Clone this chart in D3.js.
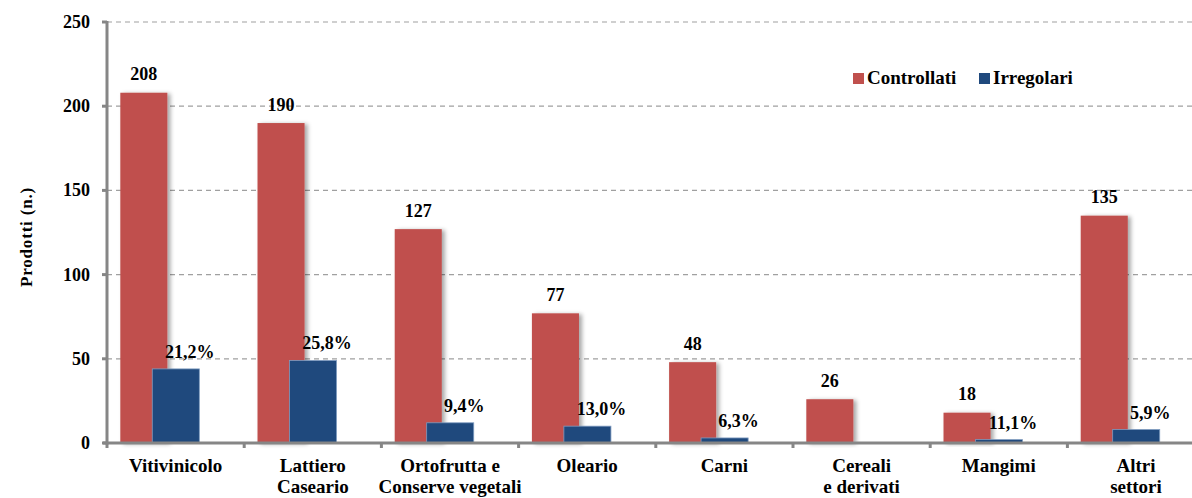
<!DOCTYPE html>
<html>
<head>
<meta charset="utf-8">
<script src="https://cdn.jsdelivr.net/npm/d3@7"></script>
<style>
  body { margin: 0; background: #fff; }
  svg { display: block; font-family: "Liberation Serif", "Times New Roman", serif; font-weight: bold; }
</style>
</head>
<body>
<div id="chart"></div>
<script>
// data
var categories = [
  ["Vitivinicolo"],
  ["Lattiero", "Caseario"],
  ["Ortofrutta e", "Conserve vegetali"],
  ["Oleario"],
  ["Carni"],
  ["Cereali", "e derivati"],
  ["Mangimi"],
  ["Altri", "settori"]
];
var controllati = [208, 190, 127, 77, 48, 26, 18, 135];
var irregolari = [44, 49, 12, 10, 3, 0, 2, 8];
var percentuali = ["21,2%", "25,8%", "9,4%", "13,0%", "6,3%", null, "11,1%", "5,9%"];
var yTicks = [0, 50, 100, 150, 200, 250];
var seriesNames = ["Controllati", "Irregolari"];
var colors = ["#C0504D", "#1F497D"];

var W = 1192, H = 498;
var mLeft = 107, mBottom = 443, mTop = 22, bandW = 137.2;

var keys = categories.map(function(c, i) { return "c" + i; });

var x = d3.scaleBand()
  .domain(keys)
  .range([mLeft, mLeft + bandW * keys.length])
  .padding(0);

var y = d3.scaleLinear()
  .domain([0, 250])
  .range([mBottom, mTop]);

var svg = d3.select("#chart").append("svg")
  .attr("width", W)
  .attr("height", H);

var defs = svg.append("defs");
var f = defs.append("filter").attr("id", "shadow")
  .attr("x", "-20%").attr("y", "-10%").attr("width", "150%").attr("height", "120%");
f.append("feDropShadow")
  .attr("dx", 3).attr("dy", 1).attr("stdDeviation", 2)
  .attr("flood-color", "#000").attr("flood-opacity", 0.35);

// grid lines
svg.append("g").selectAll("line")
  .data(yTicks.slice(1))
  .join("line")
    .attr("x1", mLeft).attr("x2", W)
    .attr("y1", d => y(d)).attr("y2", d => y(d))
    .attr("stroke", "#a0a0a0")
    .attr("stroke-width", 1.2)
    .attr("stroke-dasharray", "5,4");

var bw = x.bandwidth();
var barW = bw * 0.343;

// red bars
svg.append("g").selectAll("rect")
  .data(controllati)
  .join("rect")
    .attr("x", (d, i) => x(keys[i]) + bw * 0.097)
    .attr("y", d => y(d))
    .attr("width", barW)
    .attr("height", d => y(0) - y(d))
    .attr("fill", colors[0])
    .attr("filter", "url(#shadow)");

// blue bars
svg.append("g").selectAll("rect")
  .data(irregolari)
  .join("rect")
    .attr("x", (d, i) => x(keys[i]) + bw * 0.33)
    .attr("y", d => y(d))
    .attr("width", barW)
    .attr("height", d => y(0) - y(d))
    .attr("fill", colors[1])
    .attr("stroke", d => d > 0 ? "#7f9cc0" : "none")
    .attr("stroke-width", 0.8);

// value labels
svg.append("g").selectAll("text")
  .data(controllati)
  .join("text")
    .attr("x", (d, i) => x(keys[i]) + bw * 0.097 + barW / 2)
    .attr("y", d => y(d) - 12.5)
    .attr("text-anchor", "middle")
    .attr("font-size", 18)
    .attr("fill", "#000")
    .text(d => d);

svg.append("g").selectAll("text")
  .data(percentuali)
  .join("text")
    .attr("x", (d, i) => x(keys[i]) + bw * 0.33 + barW / 2 + 14)
    .attr("y", (d, i) => y(irregolari[i]) - 11)
    .attr("text-anchor", "middle")
    .attr("font-size", 18)
    .attr("fill", "#000")
    .text(d => d || "");

// axes
var axisColor = "#868686";
svg.append("line")
  .attr("x1", mLeft).attr("x2", mLeft)
  .attr("y1", mTop - 1).attr("y2", mBottom + 1.5)
  .attr("stroke", axisColor).attr("stroke-width", 3);

svg.append("line")
  .attr("x1", mLeft - 4).attr("x2", W)
  .attr("y1", mBottom).attr("y2", mBottom)
  .attr("stroke", axisColor).attr("stroke-width", 3);

// y ticks
var yt = svg.append("g").selectAll("g")
  .data(yTicks)
  .join("g");
yt.append("line")
  .attr("x1", mLeft - 5).attr("x2", mLeft)
  .attr("y1", d => y(d)).attr("y2", d => y(d))
  .attr("stroke", axisColor).attr("stroke-width", 3);
yt.append("text")
  .attr("x", 90)
  .attr("y", d => y(d) + 6)
  .attr("text-anchor", "end")
  .attr("font-size", 18)
  .text(d => d);

// x ticks at band boundaries
svg.append("g").selectAll("line")
  .data(keys)
  .join("line")
    .attr("x1", d => x(d) + bw).attr("x2", d => x(d) + bw)
    .attr("y1", mBottom).attr("y2", mBottom + 5)
    .attr("stroke", axisColor).attr("stroke-width", 3);
svg.append("line")
  .attr("x1", mLeft).attr("x2", mLeft)
  .attr("y1", mBottom).attr("y2", mBottom + 5)
  .attr("stroke", axisColor).attr("stroke-width", 3);

// category labels
var cl = svg.append("g").selectAll("text")
  .data(categories)
  .join("text")
    .attr("x", (d, i) => x(keys[i]) + bw / 2)
    .attr("y", 472)
    .attr("text-anchor", "middle")
    .attr("font-size", 19);
cl.selectAll("tspan")
  .data(d => d)
  .join("tspan")
    .attr("x", function() { return this.parentNode.getAttribute("x"); })
    .attr("dy", (d, i) => i === 0 ? 0 : 21)
    .text(d => d);

// y axis title
svg.append("text")
  .attr("transform", "translate(32," + 237 + ") rotate(-90)")
  .attr("text-anchor", "middle")
  .attr("font-size", 17)
  .attr("letter-spacing", 0.8)
  .text("Prodotti (n.)");

// legend
var legendX = [853, 979];
var lg = svg.append("g").selectAll("g")
  .data(seriesNames)
  .join("g")
    .attr("transform", (d, i) => "translate(" + legendX[i] + ",73)");
lg.append("rect")
  .attr("width", 11).attr("height", 11)
  .attr("fill", (d, i) => colors[i]);
lg.append("text")
  .attr("x", 14).attr("y", 10.5)
  .attr("font-size", 19)
  .text(d => d);
</script>
</body>
</html>
